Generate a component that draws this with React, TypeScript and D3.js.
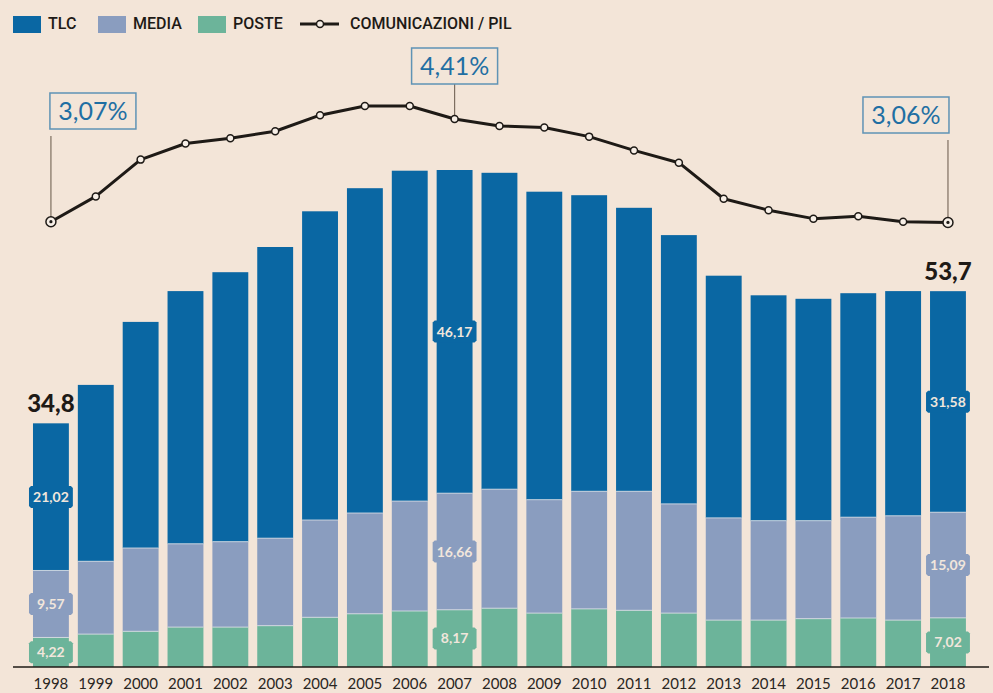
import React from "react";
import * as d3 from "d3";

const years = ["1998","1999","2000","2001","2002","2003","2004","2005","2006","2007","2008","2009","2010","2011","2012","2013","2014","2015","2016","2017","2018"];
const poste = [4.22,4.7,5.1,5.7,5.7,5.9,7.1,7.6,8.0,8.17,8.4,7.7,8.3,8.1,7.7,6.7,6.7,6.9,7.0,6.7,7.02];
const media = [9.57,10.4,11.9,11.9,12.2,12.5,13.9,14.4,15.7,16.66,17.0,16.2,16.8,17.0,15.6,14.6,14.2,14.0,14.4,14.9,15.09];
const tlc = [21.02,25.2,32.3,36.1,38.5,41.6,44.1,46.4,47.2,46.17,45.2,44.0,42.3,40.5,38.4,34.6,32.2,31.7,32.0,32.1,31.58];
const pil = [3.07,3.4,3.88,4.09,4.16,4.25,4.46,4.58,4.58,4.41,4.32,4.3,4.18,4.0,3.84,3.37,3.22,3.11,3.14,3.07,3.06];

const seriesNames = ["POSTE", "MEDIA", "TLC"];
const labelledYears = ["1998", "2007", "2018"];
const totalsShown = [{ year: "1998", text: "34,8" }, { year: "2018", text: "53,7" }];
const callouts = [
  { year: "1998", text: "3,07%", align: "left", top: 93 },
  { year: "2007", text: "4,41%", align: "center", top: 48 },
  { year: "2018", text: "3,06%", align: "right", top: 97 },
];

const BG = "#f3e5d8";
const colors: Record<string, string> = { TLC: "#0a67a3", MEDIA: "#8a9dbf", POSTE: "#6cb49a" };
const fmt = (v: number) => v.toFixed(2).replace(".", ",");

export default function App() {
  const width = 993;
  const height = 693;

  const x = d3.scaleBand().domain(years).range([28.5, 970.4]).paddingInner(0.2).paddingOuter(0.1);
  const y = d3.scaleLinear().domain([0, 71]).range([667, 170]);
  const yl = d3.scaleLinear().domain([3.07, 4.41]).range([221.7, 119]);
  const bw = x.bandwidth();
  const cx = (yr: string) => (x(yr) as number) + bw / 2;

  const table = years.map((yr, i) => ({ year: yr, POSTE: poste[i], MEDIA: media[i], TLC: tlc[i] }));
  const stacked = d3.stack<any>().keys(seriesNames)(table);

  const line = d3.line<number>().x((_, i) => cx(years[i])).y((d) => yl(d));

  const tag = (x0: number, x1: number, c: number) => {
    const h = 11, o = 4, k = 2;
    return `M${x0 - o + k},${c - h}H${x1 + o - k}L${x1 + o},${c - h + k}V${c + h - k}L${x1 + o - k},${c + h}H${x0 - o + k}L${x0 - o},${c + h - k}V${c - h + k}Z`;
  };

  const legend = [
    { name: "TLC", x: 13, tx: 48 },
    { name: "MEDIA", x: 98, tx: 133 },
    { name: "POSTE", x: 198, tx: 233 },
  ];

  return (
    <div style={{ position: "absolute", left: 0, top: 0 }}>
      <svg width={width} height={height} style={{ display: "block", background: BG }}>
        <rect width={width} height={height} fill={BG} />

        {/* legend */}
        <g fontFamily="Roboto, sans-serif" fontWeight={500} fontSize={16} fill="#1e1a16">
          {legend.map((l) => (
            <g key={l.name}>
              <rect x={l.x} y={16} width={28} height={17} fill={colors[l.name]} />
              <text x={l.tx} y={29}>{l.name}</text>
            </g>
          ))}
          <line x1={300} x2={339} y1={24} y2={24} stroke="#1e1a16" strokeWidth={3} />
          <circle cx={320} cy={24} r={3.5} fill="#f7efe7" stroke="#1e1a16" strokeWidth={1.5} />
          <text x={350} y={29}>COMUNICAZIONI / PIL</text>
        </g>

        {/* bars */}
        {stacked.map((s) => (
          <g key={s.key} fill={colors[s.key]}>
            {s.map((d, i) => (
              <rect key={years[i]} x={x(years[i])} y={y(d[1])} width={bw} height={y(d[0]) - y(d[1])} />
            ))}
          </g>
        ))}
        {stacked.slice(0, 2).map((s) => (
          <g key={"sep" + s.key} stroke="#dfe3ea" strokeWidth={1} opacity={0.8}>
            {s.map((d, i) => (
              <line key={years[i]} x1={x(years[i])} x2={(x(years[i]) as number) + bw} y1={y(d[1])} y2={y(d[1])} />
            ))}
          </g>
        ))}

        {/* value tags */}
        {stacked.map((s) =>
          s.map((d, i) => {
            if (!labelledYears.includes(years[i])) return null;
            const x0 = x(years[i]) as number;
            const c = (y(d[0]) + y(d[1])) / 2;
            return (
              <g key={s.key + years[i]}>
                <path d={tag(x0, x0 + bw, c)} fill={colors[s.key]} />
                <text x={x0 + bw / 2} y={c + 5} textAnchor="middle" fontFamily="Lato, sans-serif" fontWeight={700} fontSize={14} fill="#f1e6dc">
                  {fmt(d[1] - d[0])}
                </text>
              </g>
            );
          })
        )}

        {/* totals */}
        {totalsShown.map((t) => {
          const i = years.indexOf(t.year);
          return (
            <text key={t.year} x={cx(t.year)} y={y(poste[i] + media[i] + tlc[i]) - 11} textAnchor="middle"
              fontFamily="Lato, sans-serif" fontWeight={900} fontSize={24} fill="#1e1a16">
              {t.text}
            </text>
          );
        })}

        {/* baseline and years */}
        <line x1={13} x2={989} y1={y(0)} y2={y(0)} stroke="#1e1a16" strokeWidth={1.5} />
        {years.map((yr) => (
          <text key={yr} x={cx(yr)} y={689} textAnchor="middle" fontFamily="Lato, sans-serif" fontSize={15} fill="#2a2622">
            {yr}
          </text>
        ))}

        {/* callouts */}
        {callouts.map((c) => {
          const i = years.indexOf(c.year);
          const px = cx(c.year);
          const w = 86, h = 36;
          const bx = c.align === "left" ? px - 1 : c.align === "right" ? px - w + 1 : px - w / 2;
          return (
            <g key={c.year}>
              <line x1={px} x2={px} y1={c.top + h + (c.align === "center" ? 0 : 7)} y2={yl(pil[i])} stroke="#7d6e60" strokeWidth={1.2} />
              <rect x={bx} y={c.top} width={w} height={h} fill="none" stroke="#5f93b5" strokeWidth={1.5} />
              <text x={bx + w / 2} y={c.top + h / 2 + 8.5} textAnchor="middle" fontFamily="Lato, sans-serif" fontSize={25} fill="#1f6fa3">
                {c.text}
              </text>
            </g>
          );
        })}

        {/* line */}
        <path d={line(pil) as string} fill="none" stroke="#1e1a16" strokeWidth={3} strokeLinejoin="round" />
        {pil.map((v, i) => {
          const end = i === 0 || i === pil.length - 1;
          return (
            <g key={years[i]}>
              <circle cx={cx(years[i])} cy={yl(v)} r={end ? 5 : 3.5} fill="#f7efe7" stroke="#1e1a16" strokeWidth={1.5} />
              {end && <circle cx={cx(years[i])} cy={yl(v)} r={1.6} fill="#1e1a16" />}
            </g>
          );
        })}
      </svg>
    </div>
  );
}
